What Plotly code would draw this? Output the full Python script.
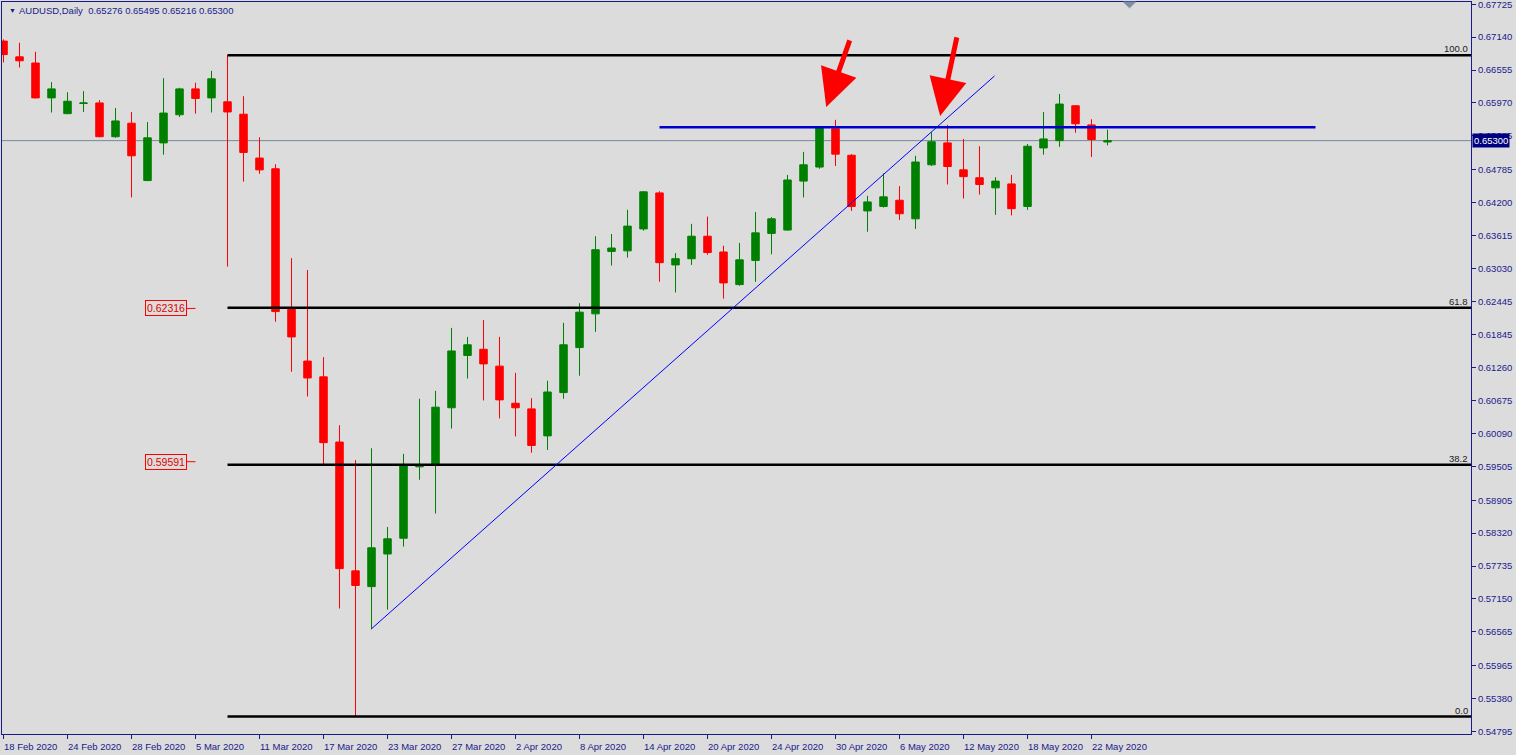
import plotly.graph_objects as go

# ---------------- data ----------------
symbol_header = "AUDUSD,Daily\u00a0\u00a00.65276 0.65495 0.65216 0.65300"

date_labels = ["18 Feb 2020", "24 Feb 2020", "28 Feb 2020", "5 Mar 2020", "11 Mar 2020",
               "17 Mar 2020", "23 Mar 2020", "27 Mar 2020", "2 Apr 2020", "8 Apr 2020",
               "14 Apr 2020", "20 Apr 2020", "24 Apr 2020", "30 Apr 2020", "6 May 2020",
               "12 May 2020", "18 May 2020", "22 May 2020"]
label_bars = [0, 4, 8, 12, 16, 20, 24, 28, 32, 36, 40, 44, 48, 52, 56, 60, 64, 68]

opens = [0.6707, 0.6679, 0.6668, 0.6606, 0.6578, 0.6596, 0.6597, 0.6537, 0.6561, 0.6459,
         0.6526, 0.6576, 0.6622, 0.6606, 0.6599, 0.6577, 0.6499, 0.6480, 0.6231, 0.6138,
         0.6110, 0.5994, 0.5765, 0.5737, 0.5795, 0.5823, 0.5950, 0.5954, 0.6055, 0.6148,
         0.6159, 0.6129, 0.6063, 0.6053, 0.6005, 0.6082, 0.6162, 0.6222, 0.6333, 0.6334,
         0.6373, 0.6437, 0.6309, 0.6320, 0.6360, 0.6332, 0.6274, 0.6317, 0.6365, 0.6371,
         0.6458, 0.6483, 0.6551, 0.6504, 0.6405, 0.6413, 0.6424, 0.6391, 0.6487, 0.6526,
         0.6478, 0.6464, 0.6446, 0.6453, 0.6413, 0.6517, 0.6530, 0.6592, 0.6558, 0.65276]
highs = [0.6710, 0.6704, 0.6688, 0.6634, 0.6616, 0.6618, 0.6602, 0.6588, 0.6581, 0.6563,
         0.6641, 0.6624, 0.6633, 0.6654, 0.6682, 0.6609, 0.6536, 0.6488, 0.6321, 0.6300,
         0.6145, 0.6024, 0.5962, 0.5983, 0.5843, 0.5973, 0.6071, 0.6085, 0.6197, 0.6181,
         0.6211, 0.6181, 0.6117, 0.6072, 0.6103, 0.6206, 0.6241, 0.6360, 0.6364, 0.6407,
         0.6440, 0.6440, 0.6330, 0.6382, 0.6395, 0.6343, 0.6348, 0.6403, 0.6394, 0.6469,
         0.6510, 0.6556, 0.6567, 0.6506, 0.6432, 0.6472, 0.6449, 0.6503, 0.6545, 0.6558,
         0.6533, 0.6520, 0.6465, 0.6469, 0.6524, 0.6581, 0.6613, 0.6593, 0.6568, 0.65495]
lows = [0.6669, 0.6660, 0.6605, 0.6580, 0.6577, 0.6581, 0.6536, 0.6535, 0.6429, 0.6458,
        0.6505, 0.6572, 0.6578, 0.6580, 0.6306, 0.6457, 0.6471, 0.6208, 0.6119, 0.6075,
        0.5954, 0.5698, 0.5506, 0.5661, 0.5696, 0.5808, 0.5927, 0.5867, 0.6018, 0.6107,
        0.6068, 0.6036, 0.6004, 0.5975, 0.5980, 0.6071, 0.6112, 0.6190, 0.6308, 0.6322,
        0.6370, 0.6279, 0.6260, 0.6309, 0.6327, 0.6249, 0.6272, 0.6279, 0.6328, 0.6370,
        0.6429, 0.6480, 0.6485, 0.6405, 0.6368, 0.6411, 0.6389, 0.6373, 0.6485, 0.6452,
        0.6427, 0.6434, 0.6398, 0.6397, 0.6407, 0.6505, 0.6519, 0.6544, 0.6501, 0.65216]
closes = [0.6683, 0.6672, 0.6606, 0.6622, 0.6600, 0.6597, 0.6537, 0.6565, 0.6503, 0.6535,
          0.6579, 0.6622, 0.6605, 0.6640, 0.6581, 0.6509, 0.6478, 0.6226, 0.6181, 0.6108,
          0.5993, 0.5769, 0.5739, 0.5806, 0.5822, 0.5952, 0.5954, 0.6056, 0.6156, 0.6167,
          0.6133, 0.6069, 0.6055, 0.5988, 0.6083, 0.6167, 0.6225, 0.6336, 0.6339, 0.6378,
          0.6439, 0.6313, 0.6320, 0.6360, 0.6331, 0.6277, 0.6318, 0.6366, 0.6391, 0.6460,
          0.6487, 0.6554, 0.6506, 0.6413, 0.6421, 0.6430, 0.6400, 0.6492, 0.6528, 0.6484,
          0.6466, 0.6452, 0.6458, 0.6409, 0.6520, 0.6533, 0.6595, 0.6560, 0.6532, 0.65300]

y_tick_values = [0.67725, 0.67140, 0.66555, 0.65970, 0.65385, 0.64785, 0.64200, 0.63615,
                 0.63030, 0.62445, 0.61845, 0.61260, 0.60675, 0.60090, 0.59505, 0.58905,
                 0.58320, 0.57735, 0.57150, 0.56565, 0.55965, 0.55380, 0.54795]
y_tick_labels = ["%.5f" % v for v in y_tick_values]

current_price = 0.65300
current_label = "0.65300"

fib_start_bar = 14
fib_levels = [0.6682, 0.62329, 0.59537, 0.5506]
fib_texts = ["100.0", "61.8", "38.2", "0.0"]

price_labels = [0.62316, 0.59591]
price_label_texts = ["0.62316", "0.59591"]
price_label_bar = 11.45

trend_bars = [23, 61.94]
trend_prices = [0.5662, 0.6645]
resist_bars = [41, 82]
resist_price = 0.6554

arrow_tip_bars = [51.42, 58.54]
arrow_tip_prices = [0.6590, 0.6574]
arrow_tail_offsets = [(24, -68), (17, -80)]

# ---------------- styles ----------------
BG = "#DCDCDC"
NAVY = "#1a1a8c"
FONT = "Liberation Sans"
FS = 9.5

x_idx = list(range(len(opens)))
x_range = [-0.09375, 91.71875]
y_range = [0.54749, 0.67765]

fig = go.Figure()
fig.add_trace(go.Candlestick(
    x=x_idx, open=opens, high=highs, low=lows, close=closes,
    increasing=dict(line=dict(color="#008000", width=1), fillcolor="#008000"),
    decreasing=dict(line=dict(color="#FF0000", width=1), fillcolor="#FF0000"),
    whiskerwidth=0, hoverinfo="skip", showlegend=False,
))

shapes = []
shapes.append(dict(type="line", xref="paper", yref="y", x0=0, x1=1,
                   y0=current_price, y1=current_price,
                   line=dict(color="#778899", width=1), layer="below"))
for lv in fib_levels:
    shapes.append(dict(type="line", xref="x", yref="y", x0=fib_start_bar, x1=x_range[1],
                       y0=lv, y1=lv, line=dict(color="black", width=2.5)))
shapes.append(dict(type="line", xref="x", yref="y", x0=trend_bars[0], x1=trend_bars[1],
                   y0=trend_prices[0], y1=trend_prices[1], line=dict(color="#0000FF", width=1)))
shapes.append(dict(type="line", xref="x", yref="y", x0=resist_bars[0], x1=resist_bars[1],
                   y0=resist_price, y1=resist_price, line=dict(color="#0000CD", width=2.5)))
for p in price_labels:
    shapes.append(dict(type="line", xref="x", yref="y", x0=price_label_bar, x1=price_label_bar + 0.55,
                       y0=p, y1=p, line=dict(color="#FF0000", width=1)))
shapes.append(dict(type="path", xref="x", yref="paper",
                   path="M 70.0 1.0 L 70.75 1.0 L 70.375 0.992 Z",
                   fillcolor="#7f8fa6", line=dict(color="#7f8fa6", width=1)))

annotations = []
annotations.append(dict(xref="paper", yref="paper", x=0.0035, y=0.9885, xanchor="left", yanchor="middle",
                        text="\u25BC", showarrow=False, font=dict(family=FONT, size=7, color=NAVY)))
annotations.append(dict(xref="paper", yref="paper", x=0.0105, y=0.9885, xanchor="left", yanchor="middle",
                        text=symbol_header, showarrow=False, font=dict(family=FONT, size=FS, color=NAVY)))
for b, t in zip(label_bars, date_labels):
    annotations.append(dict(xref="x", yref="paper", x=b, xshift=-2, y=-0.0165, xanchor="left",
                            yanchor="middle", text=t, showarrow=False,
                            font=dict(family=FONT, size=FS, color=NAVY)))
for lv, t in zip(fib_levels, fib_texts):
    annotations.append(dict(xref="paper", yref="y", x=0.9985, y=lv, xanchor="right", yanchor="bottom",
                            text=t, showarrow=False, borderpad=0,
                            font=dict(family=FONT, size=FS, color="#202020")))
for p, t in zip(price_labels, price_label_texts):
    annotations.append(dict(xref="x", yref="y", x=price_label_bar, y=p, xanchor="right", yanchor="middle",
                            text=t, showarrow=False, bordercolor="#FF0000", borderwidth=1, borderpad=1,
                            font=dict(family=FONT, size=10.5, color="#E00000")))
annotations.append(dict(xref="paper", yref="y", x=1.0005, y=current_price, xanchor="left", yanchor="middle",
                        text=current_label, showarrow=False, bgcolor="#000080", borderpad=1,
                        font=dict(family=FONT, size=FS, color="white")))
for bx, py, (ax, ay) in zip(arrow_tip_bars, arrow_tip_prices, arrow_tail_offsets):
    annotations.append(dict(xref="x", yref="y", x=bx, y=py, ax=ax, ay=ay, text="",
                            showarrow=True, arrowhead=2, arrowsize=1.5, arrowwidth=5,
                            arrowcolor="#FF0000", standoff=0))

fig.update_layout(
    width=1516, height=755,
    margin=dict(l=2, r=45, t=2, b=21, pad=0, autoexpand=False),
    paper_bgcolor=BG, plot_bgcolor=BG,
    showlegend=False,
    shapes=shapes, annotations=annotations,
    boxgap=0.33,
    font=dict(family=FONT, size=FS, color=NAVY),
    xaxis=dict(range=x_range, rangeslider=dict(visible=False), showgrid=False, zeroline=False,
               tickvals=label_bars, ticktext=[""] * len(label_bars), ticks="outside", ticklen=4,
               tickcolor=NAVY, showline=True, linecolor=NAVY, linewidth=1, mirror=True,
               fixedrange=True, automargin=False),
    yaxis=dict(range=y_range, side="right", showgrid=False, zeroline=False,
               tickvals=y_tick_values, ticktext=y_tick_labels, ticks="outside", ticklen=4,
               tickcolor=NAVY, tickfont=dict(family=FONT, size=FS, color=NAVY),
               ticklabeloverflow="allow", automargin=False,
               showline=True, linecolor=NAVY, linewidth=1, mirror=True, fixedrange=True),
)

fig.write_html("out.html", config={"displayModeBar": False},
               post_script="document.body.style.margin='0';document.body.style.overflow='hidden';")
